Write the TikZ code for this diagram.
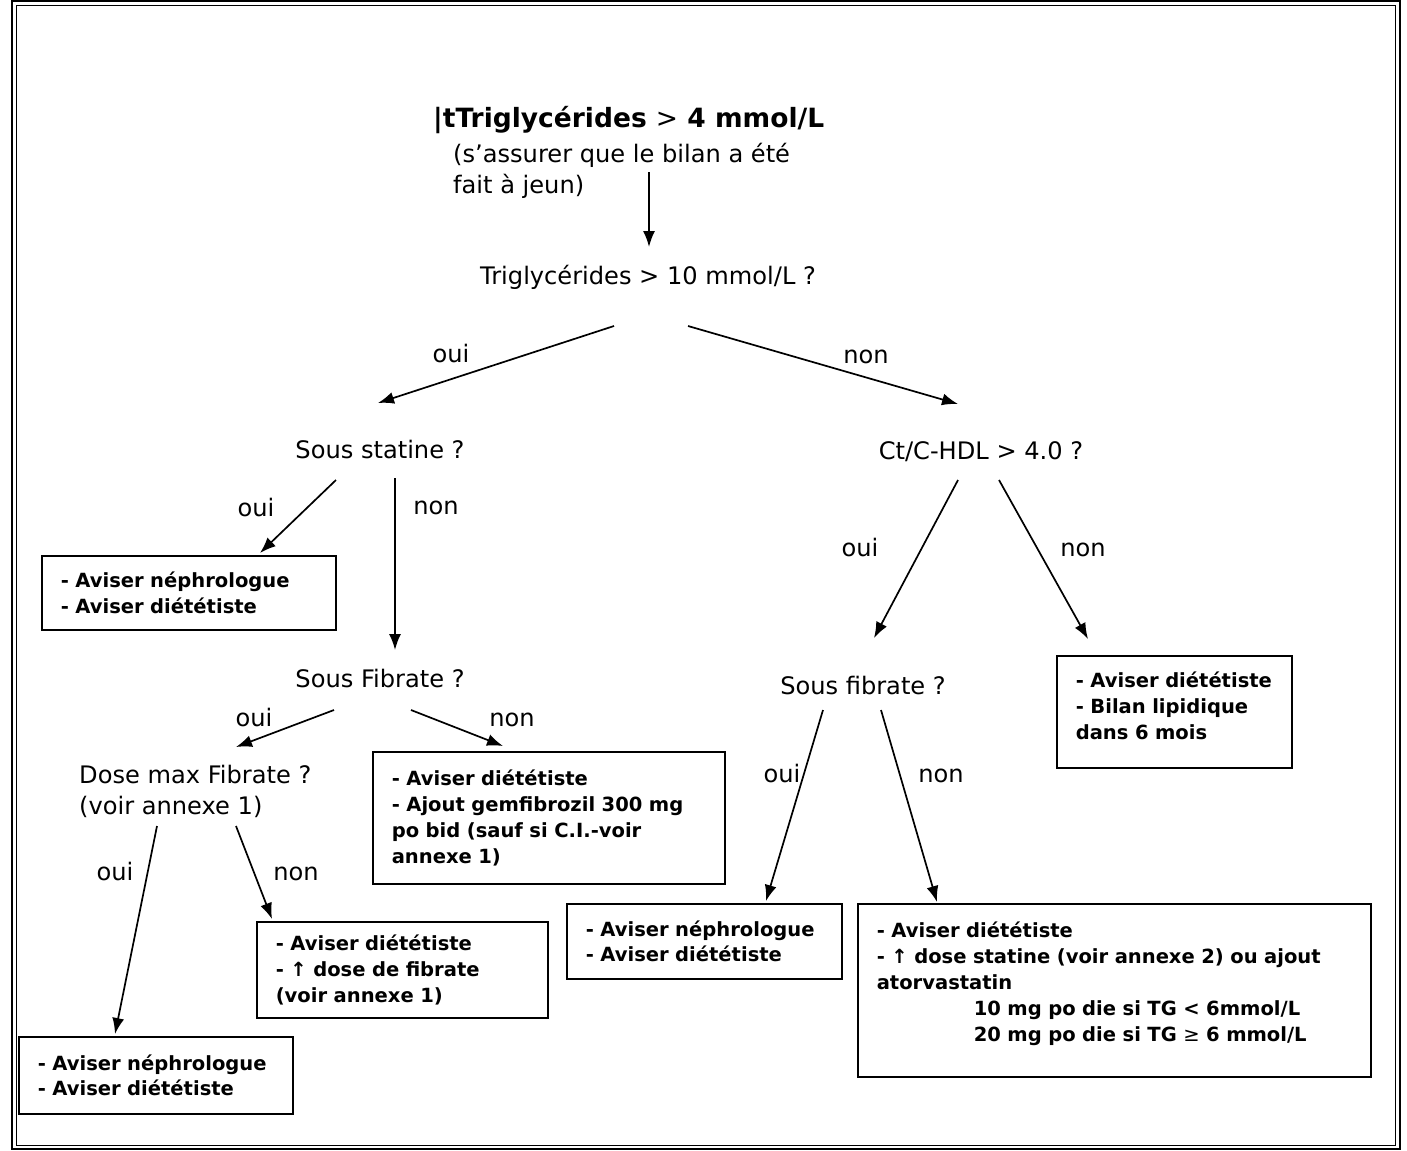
\documentclass[tikz,border=0pt]{standalone}
\usepackage{fontspec}
\setmainfont{DejaVu Sans}
\usetikzlibrary{positioning,arrows.meta,calc}

\begin{document}
\begin{tikzpicture}[x=1bp,y=-1bp,
    txt/.style={inner sep=0pt,font=\fontsize{24.2}{31}\selectfont},
    lbl/.style={inner sep=0pt,anchor=base,font=\fontsize{24.2}{31}\selectfont},
    box/.style={draw,line width=1.6bp,anchor=north west,inner xsep=19bp,inner ysep=0pt,align=left,font=\fontsize{19.6}{26}\selectfont\bfseries},
    arr/.style={-{Latex[length=16bp,width=12bp]},line width=1.7bp}]
    \useasboundingbox (0,0) rectangle (1407,1150);
    \draw[line width=1.6bp] (12,1) rectangle (1400,1149);
    \draw[line width=1bp] (16,5) rectangle (1395,1145);

    \node [txt,anchor=base west,font=\fontsize{26.6}{32}\selectfont\bfseries] (tgfour) at (433,127) {|tTriglycérides {\mdseries >} 4 mmol/L};
    \node [txt,anchor=base west,align=left] (jeun) at (453,193) {(s'assurer que le bilan a été\\fait à jeun)};
    \node [txt,anchor=base] (tgten) at (648,284) {Triglycérides > 10 mmol/L ?};
    \node [txt,anchor=base] (statA) at (380,458) {Sous statine ?};
    \node [txt,anchor=base] (ctHDL) at (981,459) {Ct/C-HDL > 4.0 ?};
    \node [txt,anchor=base] (fibA) at (380,687) {Sous Fibrate ?};
    \node [txt,anchor=base] (fibB) at (863,694) {Sous fibrate ?};
    \node [txt,anchor=base west,align=left] (dosemax) at (79,814) {Dose max Fibrate ?\\(voir annexe 1)};

    \node [box,text width=256bp,minimum height=74bp] (nephA) at (41,555) {- Aviser néphrologue\\- Aviser diététiste};
    \node [box,text width=314bp,minimum height=132bp] (gemfi) at (372,751) {- Aviser diététiste\\- Ajout gemfibrozil 300 mg\\po bid (sauf si C.I.-voir\\annexe 1)};
    \node [box,text width=253bp,minimum height=96bp] (dosefib) at (256,921) {- Aviser diététiste\\- ↑ dose de fibrate\\(voir annexe 1)};
    \node [box,text width=236bp,minimum height=77bp] (nephB) at (18,1036) {- Aviser néphrologue\\- Aviser diététiste};
    \node [box,text width=197bp,minimum height=112bp] (bilan) at (1056,655) {- Aviser diététiste\\- Bilan lipidique\\dans 6 mois\rule[-13bp]{0pt}{13bp}};
    \node [box,text width=237bp,minimum height=75bp] (nephC) at (566,903) {- Aviser néphrologue\\- Aviser diététiste};
    \node [box,text width=475bp,minimum height=173bp] (statup) at (857,903) {- Aviser diététiste\\- ↑ dose statine (voir annexe 2) ou ajout\\atorvastatin\\\hspace*{97bp}10 mg po die si TG < 6mmol/L\\\hspace*{97bp}20 mg po die si TG {\mdseries ≥} 6 mmol/L\rule[-17bp]{0pt}{17bp}};

    \draw [arr] ($(jeun.base west)+(196,-21)$) -- ($(tgten.base)+(1,-37)$);
    \draw [arr] ($(tgten.base)+(-34,42)$) -- ($(statA.base)+(-2,-55)$);
    \draw [arr] ($(tgten.base)+(40,42)$) -- ($(ctHDL.base)+(-23,-55)$);
    \draw [arr] ($(statA.base)+(-44,22)$) -- ($(nephA.north west)+(219,-2)$);
    \draw [arr] ($(statA.base)+(15,20)$) -- ($(fibA.base)+(15,-37)$);
    \draw [arr] ($(fibA.base)+(-46,23)$) -- ($(dosemax.base west)+(157,-67)$);
    \draw [arr] ($(fibA.base)+(31,23)$) -- ($(gemfi.north west)+(131,-5)$);
    \draw [arr] ($(dosemax.base west)+(78,12)$) -- ($(nephB.north west)+(97,-2)$);
    \draw [arr] ($(dosemax.base west)+(157,12)$) -- ($(dosefib.north west)+(16,-2)$);
    \draw [arr] ($(ctHDL.base)+(-23,21)$) -- ($(fibB.base)+(11,-56)$);
    \draw [arr] ($(ctHDL.base)+(18,21)$) -- ($(bilan.north west)+(32,-16)$);
    \draw [arr] ($(fibB.base)+(-40,16)$) -- ($(nephC.north west)+(200,-2)$);
    \draw [arr] ($(fibB.base)+(18,16)$) -- ($(statup.north west)+(80,-1)$);

    \node [lbl] (ouiA) at (451,362) {oui};
    \node [lbl] (nonA) at (866,363) {non};
    \node [lbl] (ouiB) at (256,516) {oui};
    \node [lbl] (nonB) at (436,514) {non};
    \node [lbl] (ouiC) at (254,726) {oui};
    \node [lbl] (nonC) at (512,726) {non};
    \node [lbl] (ouiD) at (115,880) {oui};
    \node [lbl] (nonD) at (296,880) {non};
    \node [lbl] (ouiE) at (860,556) {oui};
    \node [lbl] (nonE) at (1083,556) {non};
    \node [lbl] (ouiF) at (782,782) {oui};
    \node [lbl] (nonF) at (941,782) {non};
\end{tikzpicture}
\end{document}
